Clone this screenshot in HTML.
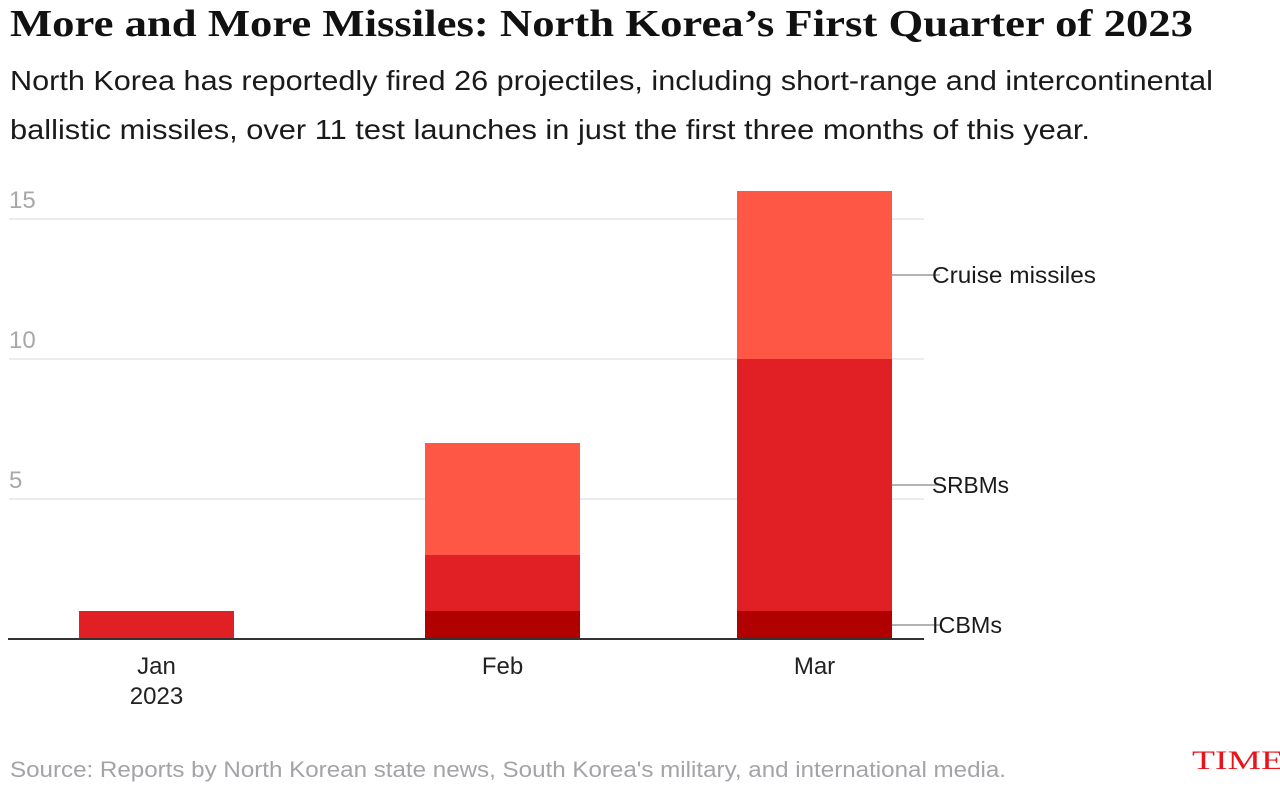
<!DOCTYPE html>
<html>
<head>
<meta charset="utf-8">
<style>
  html, body { margin:0; padding:0; background:#fff; }
  body { width:1280px; height:790px; overflow:hidden; }
  svg { display:block; }
  .sans { font-family: "Liberation Sans", "DejaVu Sans", sans-serif; }
  .serif { font-family: "Liberation Serif", "DejaVu Serif", serif; }
</style>
</head>
<body>
<svg width="1280" height="790" viewBox="0 0 1280 790" xmlns="http://www.w3.org/2000/svg">
  <!-- Title -->
  <text class="serif" x="10" y="36" font-size="38" font-weight="bold" fill="#111" textLength="1183" lengthAdjust="spacingAndGlyphs">More and More Missiles: North Korea’s First Quarter of 2023</text>
  <!-- Subtitle -->
  <text class="sans" x="10" y="90" font-size="28" fill="#1a1a1a" textLength="1203" lengthAdjust="spacingAndGlyphs">North Korea has reportedly fired 26 projectiles, including short-range and intercontinental</text>
  <text class="sans" x="10" y="139" font-size="28" fill="#1a1a1a" textLength="1080" lengthAdjust="spacingAndGlyphs">ballistic missiles, over 11 test launches in just the first three months of this year.</text>

  <!-- Gridlines -->
  <g stroke="#e6e6e6" stroke-width="1.5">
    <line x1="9" y1="219" x2="924" y2="219"/>
    <line x1="9" y1="359" x2="924" y2="359"/>
    <line x1="9" y1="499" x2="924" y2="499"/>
  </g>
  <!-- Y labels -->
  <g class="sans" font-size="24" fill="#a8a8a8">
    <text x="9" y="208">15</text>
    <text x="9" y="348">10</text>
    <text x="9" y="488">5</text>
  </g>

  <!-- Bars -->
  <!-- Jan -->
  <rect x="79" y="611" width="155" height="28" fill="#e02024"/>
  <!-- Feb -->
  <rect x="425" y="443" width="155" height="112" fill="#ff5745"/>
  <rect x="425" y="555" width="155" height="56" fill="#e02024"/>
  <rect x="425" y="611" width="155" height="28" fill="#b00000"/>
  <!-- Mar -->
  <rect x="737" y="191" width="155" height="168" fill="#ff5745"/>
  <rect x="737" y="359" width="155" height="252" fill="#e02024"/>
  <rect x="737" y="611" width="155" height="28" fill="#b00000"/>

  <!-- Axis -->
  <line x1="8" y1="639" x2="924" y2="639" stroke="#333" stroke-width="2"/>

  <!-- Leader lines -->
  <g stroke="#999" stroke-width="1.5">
    <line x1="892" y1="275" x2="940" y2="275"/>
    <line x1="892" y1="485" x2="940" y2="485"/>
    <line x1="892" y1="625" x2="940" y2="625"/>
  </g>
  <!-- Series labels -->
  <g class="sans" font-size="23" fill="#1a1a1a">
    <text x="932" y="283" textLength="164" lengthAdjust="spacingAndGlyphs">Cruise missiles</text>
    <text x="932" y="493" textLength="77" lengthAdjust="spacingAndGlyphs">SRBMs</text>
    <text x="932" y="633" textLength="70" lengthAdjust="spacingAndGlyphs">ICBMs</text>
  </g>

  <!-- X labels -->
  <g class="sans" font-size="24" fill="#222" text-anchor="middle">
    <text x="156.5" y="674">Jan</text>
    <text x="156.5" y="704">2023</text>
    <text x="502.5" y="674">Feb</text>
    <text x="814.5" y="674">Mar</text>
  </g>

  <!-- Source -->
  <text class="sans" x="10" y="777" font-size="22" fill="#a3a3a8" textLength="996" lengthAdjust="spacingAndGlyphs">Source: Reports by North Korean state news, South Korea's military, and international media.</text>

  <!-- TIME logo -->
  <text class="serif" x="1192" y="769" font-size="26" fill="#e8141c" textLength="92" lengthAdjust="spacingAndGlyphs">TIME</text>
</svg>
</body>
</html>
